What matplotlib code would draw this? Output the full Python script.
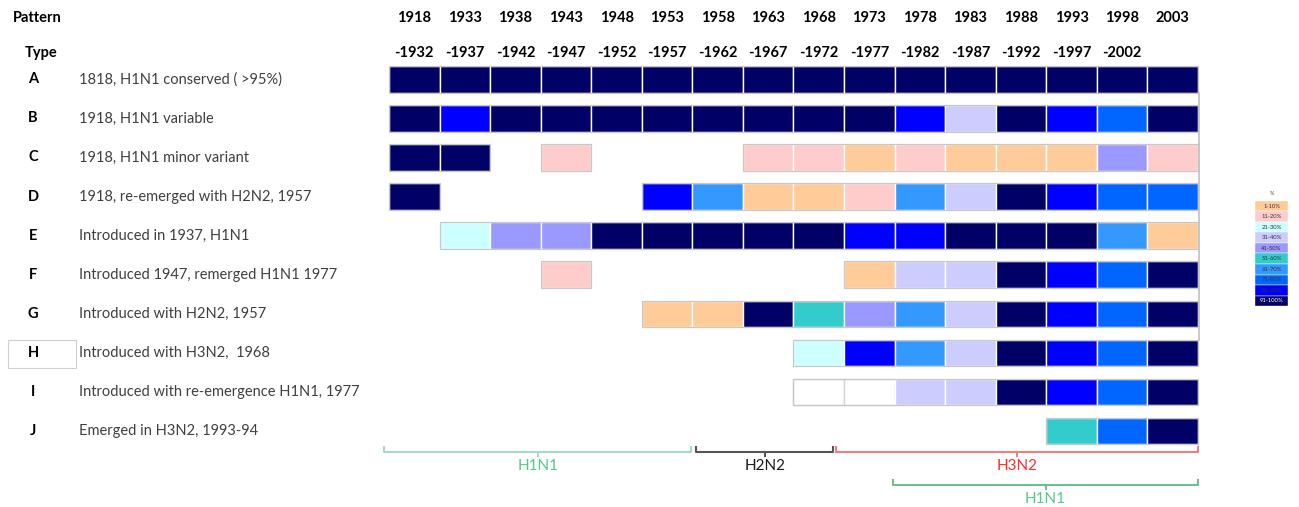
import matplotlib.pyplot as plt
from matplotlib.patches import Rectangle

plt.rcParams['font.family'] = ['Lato', 'DejaVu Sans']

# column headers
years = ['1918', '1933', '1938', '1943', '1948', '1953', '1958', '1963',
         '1968', '1973', '1978', '1983', '1988', '1993', '1998', '2003']
ranges = ['-1932', '-1937', '-1942', '-1947', '-1952', '-1957', '-1962', '-1967',
          '-1972', '-1977', '-1982', '-1987', '-1992', '-1997', '-2002', '']

types = ['A', 'B', 'C', 'D', 'E', 'F', 'G', 'H', 'I', 'J']
descriptions = ['1818, H1N1 conserved ( >95%)',
                '1918, H1N1 variable',
                '1918, H1N1 minor variant',
                '1918, re-emerged with H2N2, 1957',
                'Introduced in 1937, H1N1',
                'Introduced 1947, remerged H1N1 1977',
                'Introduced with H2N2, 1957',
                'Introduced with H3N2,  1968',
                'Introduced with re-emergence H1N1, 1977',
                'Emerged in H3N2, 1993-94']

# category per cell: 1 = 1-10% ... 10 = 91-100%, 0 = blank cell, None = no cell
N = None
row_A = [10, 10, 10, 10, 10, 10, 10, 10, 10, 10, 10, 10, 10, 10, 10, 10]
row_B = [10, 9, 10, 10, 10, 10, 10, 10, 10, 10, 9, 4, 10, 9, 8, 10]
row_C = [10, 10, N, 2, N, N, N, 2, 2, 1, 2, 1, 1, 1, 5, 2]
row_D = [10, N, N, N, N, 9, 7, 1, 1, 2, 7, 4, 10, 9, 8, 8]
row_E = [N, 3, 5, 5, 10, 10, 10, 10, 10, 9, 9, 10, 10, 10, 7, 1]
row_F = [N, N, N, 2, N, N, N, N, N, 1, 4, 4, 10, 9, 8, 10]
row_G = [N, N, N, N, N, 1, 1, 10, 6, 5, 7, 4, 10, 9, 8, 10]
row_H = [N, N, N, N, N, N, N, N, 3, 9, 7, 4, 10, 9, 8, 10]
row_I = [N, N, N, N, N, N, N, N, 0, 0, 4, 4, 10, 9, 8, 10]
row_J = [N, N, N, N, N, N, N, N, N, N, N, N, N, 6, 8, 10]
rows = [row_A, row_B, row_C, row_D, row_E, row_F, row_G, row_H, row_I, row_J]

legend_labels = ['1-10%', '11-20%', '21-30%', '31-40%', '41-50%',
                 '51-60%', '61-70%', '71-80%', '81-90%', '91-100%']
palette = {0: 'white', 1: '#FFCC99', 2: '#FFCCCC', 3: '#CCFFFF', 4: '#CCCCFF',
           5: '#9999FF', 6: '#33CCCC', 7: '#3399FF', 8: '#0066FF',
           9: '#0000FF', 10: '#000066'}

# subtype brackets: (name, start col, end col, level, line colour, text colour)
brackets = [('H1N1', -0.1, 5.98, 0, '#A3DCC2', '#55C98A'),
            ('H2N2', 6.08, 8.78, 0, '#555555', '#1A1A1A'),
            ('H3N2', 8.84, 16.0, 0, '#EC7F7F', '#FF2A2A'),
            ('H1N1', 9.97, 16.0, 1, '#6CBF91', '#55C98A')]

fig = plt.figure(figsize=(12.99, 5.07), dpi=100)
ax = fig.add_axes([0, 0, 1, 1])
ax.set_xlim(-7.694, 17.998)
ax.set_ylim(11.279, -1.688)
ax.axis('off')

h = 0.68
dark = '#404040'

# headers
ax.text(-7.44, -1.23, 'Pattern', fontsize=10.5, fontweight='bold', va='center', ha='left')
ax.text(-6.88, -0.33, 'Type', fontsize=10.5, fontweight='bold', va='center', ha='center')
for j, (y1, r) in enumerate(zip(years, ranges)):
    ax.text(j + 0.5, -1.23, y1, fontsize=10.5, fontweight='bold', ha='center', va='center')
    ax.text(j + 0.5, -0.33, r, fontsize=10.5, fontweight='bold', ha='center', va='center')

# row labels
for i, (t, d) in enumerate(zip(types, descriptions)):
    ax.text(-7.04, i + h / 2, t, fontsize=10.5, fontweight='bold', ha='center', va='center')
    ax.text(-6.13, i + h / 2, d, fontsize=10.5, color=dark, ha='left', va='center')
ax.add_patch(Rectangle((-7.54, 7.0), 1.35, 0.72, fill=False, edgecolor='#D0D0D0', lw=0.8))

# cells
for i, vals in enumerate(rows):
    for j, v in enumerate(vals):
        if v is None:
            continue
        ec = '#D4D4D4' if v == 0 else 'white'
        ax.add_patch(Rectangle((j, i), 1, h, facecolor=palette[v], edgecolor=ec, lw=1.0))
    # outline of each contiguous run
    j = 0
    while j < len(vals):
        if vals[j] is None:
            j += 1
            continue
        k = j
        while k < len(vals) and vals[k] is not None:
            k += 1
        ax.add_patch(Rectangle((j, i), k - j, h, fill=False, edgecolor='#C8C8C8', lw=0.9))
        j = k

ax.plot([16.03, 16.03], [h, 7.0], color='#C0C0C0', lw=1.2)

# brackets
for name, x0, x1, lev, lc, tc in brackets:
    y = 9.87 + 0.85 * lev
    xm = (x0 + x1) / 2
    ax.plot([x0, x0, x1, x1], [y - 0.12, y, y, y - 0.12], color=lc, lw=1.5,
            solid_joinstyle='round', clip_on=False)
    ax.plot([xm, xm], [y, y + 0.1], color=lc, lw=1.5, clip_on=False)
    ax.text(xm, y + 0.36, name, fontsize=11, color=tc, ha='center', va='center')

# colour legend
lx0, lw_ = 17.13, 0.65
ly0, lh = 3.45, 0.269
ax.text(lx0 + lw_ / 2, ly0 - 0.18, '%', fontsize=4, ha='center', va='center', color='#444444')
for k, lab in enumerate(legend_labels):
    ax.add_patch(Rectangle((lx0, ly0 + k * lh), lw_, lh, facecolor=palette[k + 1],
                           edgecolor='white', lw=0.3))
    ax.text(lx0 + lw_ / 2, ly0 + (k + 0.5) * lh, lab, fontsize=4.2,
            color='white' if k == 9 else '#333333', ha='center', va='center')

fig.savefig('out.png', dpi=100)
